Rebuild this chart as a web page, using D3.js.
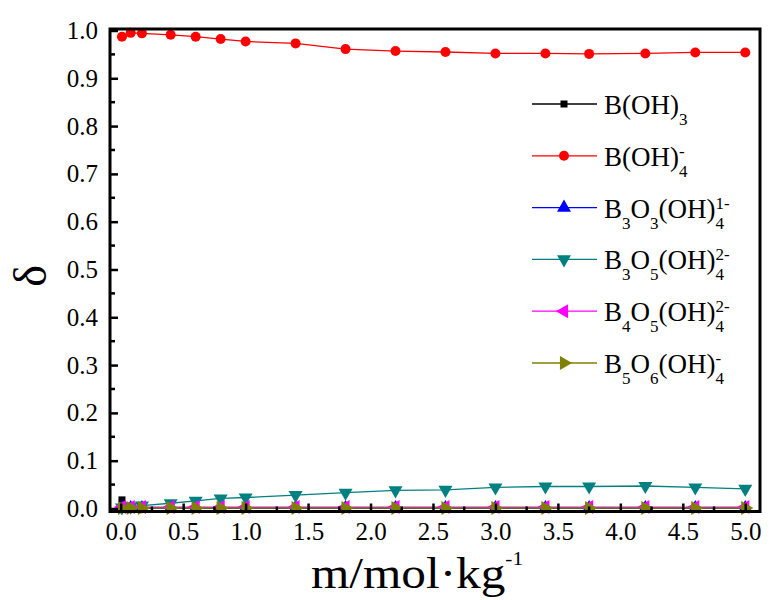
<!DOCTYPE html>
<html>
<head>
<meta charset="utf-8">
<script src="https://cdn.jsdelivr.net/npm/d3@7"></script>
<style>
  body { margin: 0; background: #fff; }
  text { font-family: "Liberation Serif", "Times New Roman", serif; fill: #000; }
</style>
</head>
<body>
<div id="chart"></div>
<script>
/* CONSTANTS AND GLOBALS */
const width = 769,
  height = 600,
  margin = { top: 29, bottom: 88.5, left: 110, right: 9 },
  serif = '"Liberation Serif", "Times New Roman", serif';

/* DATA */
const molality = [0.01, 0.08, 0.17, 0.4, 0.6, 0.8, 1.0, 1.4, 1.8, 2.2, 2.6, 3.0, 3.4, 3.75, 4.2, 4.6, 5.0];

const bOH3 = [0.018, 0.004, 0.002, 0.001, 0.001, 0.001, 0.001, 0.001, 0.001, 0.001, 0.001, 0.001, 0.001, 0.001, 0.001, 0.001, 0.001];
const bOH4 = [0.987, 0.995, 0.994, 0.991, 0.987, 0.982, 0.977, 0.973, 0.961, 0.957, 0.955, 0.952, 0.952, 0.951, 0.952, 0.954, 0.954];
const b3o3 = [0.001, 0.001, 0.001, 0.001, 0.001, 0.001, 0.001, 0.001, 0.001, 0.001, 0.001, 0.001, 0.001, 0.001, 0.001, 0.001, 0.001];
const b3o5 = [0.002, 0.004, 0.006, 0.011, 0.016, 0.021, 0.023, 0.028, 0.033, 0.038, 0.039, 0.044, 0.046, 0.046, 0.047, 0.044, 0.041];
const b4o5 = [0.003, 0.003, 0.003, 0.003, 0.003, 0.003, 0.003, 0.003, 0.003, 0.003, 0.003, 0.003, 0.003, 0.003, 0.003, 0.003, 0.003];
const b5o6 = [0.001, 0.001, 0.001, 0.001, 0.001, 0.001, 0.001, 0.001, 0.001, 0.001, 0.001, 0.001, 0.001, 0.001, 0.001, 0.001, 0.001];

const xTicks = [0, 0.5, 1, 1.5, 2, 2.5, 3, 3.5, 4, 4.5, 5];
const yTicks = [0, 0.1, 0.2, 0.3, 0.4, 0.5, 0.6, 0.7, 0.8, 0.9, 1.0];

// formula parts: t = normal text, sub / sup = stacked indices
const series = [
  { name: [{ t: "B(OH)" }, { sub: "3" }], values: bOH3, color: "#000000", symbol: "square" },
  { name: [{ t: "B(OH)" }, { sub: "4", sup: "-" }], values: bOH4, color: "#ff0000", symbol: "circle" },
  { name: [{ t: "B" }, { sub: "3" }, { t: "O" }, { sub: "3" }, { t: "(OH)" }, { sub: "4", sup: "1-" }], values: b3o3, color: "#0000ff", symbol: "up" },
  { name: [{ t: "B" }, { sub: "3" }, { t: "O" }, { sub: "5" }, { t: "(OH)" }, { sub: "4", sup: "2-" }], values: b3o5, color: "#008080", symbol: "down" },
  { name: [{ t: "B" }, { sub: "4" }, { t: "O" }, { sub: "5" }, { t: "(OH)" }, { sub: "4", sup: "2-" }], values: b4o5, color: "#ff00ff", symbol: "left" },
  { name: [{ t: "B" }, { sub: "5" }, { t: "O" }, { sub: "6" }, { t: "(OH)" }, { sub: "4", sup: "-" }], values: b5o6, color: "#808000", symbol: "right" },
];

/* SCALES */
const xScale = d3.scaleLinear()
  .domain([-0.0857, 5.118])
  .range([margin.left, width - margin.right]);

const yScale = d3.scaleLinear()
  .domain([-0.0063, 1.0031])
  .range([height - margin.bottom, margin.top]);

const svg = d3.select("#chart")
  .append("svg")
  .attr("width", width)
  .attr("height", height);

// marker generator
function marker(sel, kind, color) {
  const tri = d3.symbol().type(d3.symbolTriangle).size(85);
  if (kind === "circle") {
    sel.append("circle").attr("r", 5).attr("fill", color);
  } else if (kind === "square") {
    sel.append("rect").attr("x", -3.5).attr("y", -3.5).attr("width", 7).attr("height", 7).attr("fill", color);
  } else {
    const rot = { up: 0, right: 90, down: 180, left: 270 }[kind];
    sel.append("path").attr("d", tri()).attr("transform", `rotate(${rot})`).attr("fill", color);
  }
}

/* LINES AND POINTS */
const lineFunc = d3.line()
  .x(d => xScale(d[0]))
  .y(d => yScale(d[1]));

series.forEach(s => {
  const pts = molality.map((m, i) => [m, s.values[i]]);
  svg.append("path")
    .attr("d", lineFunc(pts))
    .attr("fill", "none")
    .attr("stroke", s.color)
    .attr("stroke-width", 1.3);
  svg.append("g")
    .selectAll("g")
    .data(pts)
    .join("g")
    .attr("transform", d => `translate(${xScale(d[0])},${yScale(d[1])})`)
    .each(function() { marker(d3.select(this), s.symbol, s.color); });
});

/* AXES */
const xMinor = d3.range(0, 5.01, 0.25).filter(v => Math.abs(v * 2 - Math.round(v * 2)) > 0.01);
const yMinor = d3.range(0.05, 1.0, 0.1);

const xAxis = svg.append("g")
  .attr("transform", `translate(0,${height - margin.bottom})`)
  .call(d3.axisBottom(xScale).tickValues(xTicks).tickFormat(d3.format(".1f")).tickSize(-8).tickPadding(11))
  .attr("font-family", serif)
  .attr("font-size", 25);
xAxis.selectAll(".tick line").attr("stroke-width", 2.5);
xAxis.select(".domain").remove();
xAxis.selectAll(".minor")
  .data(xMinor)
  .join("line")
  .attr("class", "minor")
  .attr("x1", d => xScale(d)).attr("x2", d => xScale(d))
  .attr("y1", 0).attr("y2", -5)
  .attr("stroke", "#000").attr("stroke-width", 2.5);

const yAxis = svg.append("g")
  .attr("transform", `translate(${margin.left},0)`)
  .call(d3.axisLeft(yScale).tickValues(yTicks).tickFormat(d3.format(".1f")).tickSize(-8).tickPadding(12))
  .attr("font-family", serif)
  .attr("font-size", 25);
yAxis.selectAll(".tick line").attr("stroke-width", 2.5);
yAxis.select(".domain").remove();
yAxis.selectAll(".minor")
  .data(yMinor)
  .join("line")
  .attr("class", "minor")
  .attr("y1", d => yScale(d)).attr("y2", d => yScale(d))
  .attr("x1", 0).attr("x2", 5)
  .attr("stroke", "#000").attr("stroke-width", 2.5);

// frame
svg.append("rect")
  .attr("x", margin.left)
  .attr("y", margin.top)
  .attr("width", width - margin.left - margin.right)
  .attr("height", height - margin.top - margin.bottom)
  .attr("fill", "none")
  .attr("stroke", "#000")
  .attr("stroke-width", 3);

/* AXIS LABELS */
// the original label is set in a slightly wide face, so stretch it horizontally
const xl = svg.append("text")
  .attr("transform", "translate(311,588) scale(1.12,1)")
  .style("font-size", "44px");
xl.append("tspan").text("m/mol·kg");
xl.append("tspan").attr("dy", -23).style("font-size", "19px").text("-1");

svg.append("text")
  .attr("transform", "translate(46,276) rotate(-90)")
  .attr("text-anchor", "middle")
  .style("font-size", "46px")
  .text("δ");

/* LEGEND */
const legendX = 532, legendY = 104, legendStep = 51.8;

series.forEach((s, i) => {
  const y = legendY + i * legendStep;
  const g = svg.append("g");
  g.append("line")
    .attr("x1", legendX).attr("x2", legendX + 65)
    .attr("y1", y).attr("y2", y)
    .attr("stroke", s.color).attr("stroke-width", 1.3);
  const m = g.append("g").attr("transform", `translate(${legendX + 32},${y})`);
  marker(m, s.symbol, s.color);

  // formula text with stacked sub/sup
  let cx = legendX + 72;
  const base = y + 10;
  s.name.forEach(p => {
    if (p.t) {
      const t = g.append("text").attr("x", cx).attr("y", base).style("font-size", "27px").text(p.t);
      cx += t.node().getComputedTextLength();
    } else {
      let w = 0;
      if (p.sub) {
        const t = g.append("text").attr("x", cx).attr("y", base + 11).style("font-size", "17px").text(p.sub);
        w = Math.max(w, t.node().getComputedTextLength());
      }
      if (p.sup) {
        const t = g.append("text").attr("x", cx).attr("y", base - 9).style("font-size", "17px").text(p.sup);
        w = Math.max(w, t.node().getComputedTextLength());
      }
      cx += w;
    }
  });
});
</script>
</body>
</html>
